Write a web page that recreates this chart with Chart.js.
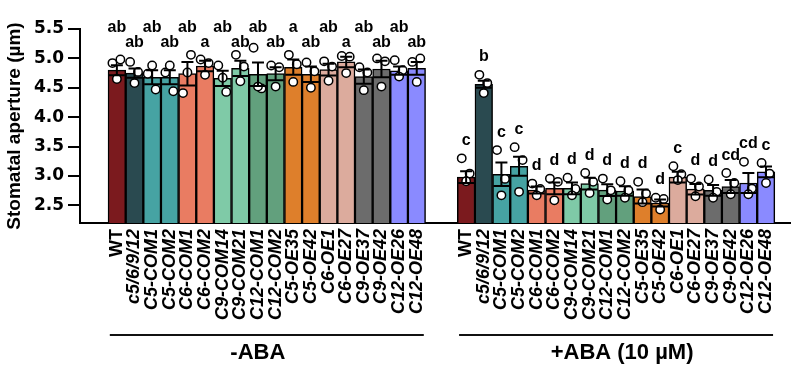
<!DOCTYPE html>
<html><head><meta charset="utf-8">
<script src="https://cdn.jsdelivr.net/npm/chart.js@4.4.1/dist/chart.umd.min.js"></script>
<style>html,body{margin:0;padding:0;background:#fff;}</style>
</head><body>
<canvas id="c" width="800" height="377" style="width:800px;height:377px;display:block"></canvas>
<script>
// ---------- data ----------
const categories = ['WT','c5/6/9/12','C5-COM1','C5-COM2','C6-COM1','C6-COM2','C9-COM14','C9-COM21','C12-COM1','C12-COM2','C5-OE35','C5-OE42','C6-OE1','C6-OE27','C9-OE37','C9-OE42','C12-OE26','C12-OE48'];
const groupLabels = ['-ABA', '+ABA (10 µM)'];
const yTickValues = [2.5, 3.0, 3.5, 4.0, 4.5, 5.0, 5.5];
const yTitle = 'Stomatal aperture (µm)';

const meanMinus = [4.80,4.75,4.68,4.68,4.74,4.87,4.66,4.83,4.73,4.74,4.85,4.73,4.81,4.94,4.69,4.82,4.79,4.83];
const semMinus  = [0.085,0.08,0.12,0.12,0.20,0.09,0.13,0.13,0.20,0.11,0.13,0.13,0.10,0.09,0.12,0.14,0.07,0.11];
const dotsMinus = [
  [4.92,4.98,4.65],[4.94,4.77,4.58],[4.74,4.47,4.88],[4.76,4.44,4.88],[4.41,5.06,4.76],[4.98,4.92,4.72],
  [4.88,4.43,4.67],[5.06,4.86,4.61],[5.18,4.49,4.52],[4.88,4.85,4.52],[5.06,4.90,4.60],[4.93,4.78,4.50],
  [4.95,4.86,4.62],[5.04,5.03,4.75],[4.85,4.76,4.46],[5.00,4.95,4.52],[4.97,4.80,4.69],[4.94,5.00,4.60]
];
const lettersMinus = ['ab','ab','ab','ab','ab','a','ab','ab','ab','ab','a','ab','ab','a','ab','ab','ab','ab'];

const meanPlus = [2.98,4.56,3.03,3.165,2.76,2.79,2.79,2.87,2.76,2.745,2.65,2.54,2.98,2.775,2.755,2.82,2.88,3.07];
const semPlus  = [0.10,0.06,0.20,0.16,0.06,0.10,0.10,0.10,0.10,0.08,0.12,0.06,0.09,0.09,0.09,0.11,0.17,0.09];
const dotsPlus = [
  [3.30,3.04,2.91],[4.72,4.58,4.41],[3.44,2.95,2.67],[3.49,3.27,2.73],[2.87,2.78,2.67],[2.955,2.90,2.585],
  [2.97,2.78,2.67],[3.05,2.90,2.71],[2.955,2.755,2.60],[2.91,2.755,2.63],[2.90,2.70,2.555],[2.63,2.61,2.43],
  [3.165,3.03,2.93],[2.955,2.82,2.655],[2.94,2.73,2.63],[3.05,2.88,2.69],[3.24,2.785,2.69],[3.22,3.04,2.88]
];
const lettersPlus = ['c','b','c','c','d','d','d','d','d','d','d','d','c','d','d','cd','cd','c'];

const barColors = ['#7b1a1e','#2a4a50','#46a3a3','#46a3a3','#e97c62','#e97c62','#7fcaa7','#7fcaa7','#62a07d','#62a07d','#de7f2b','#de7f2b','#dcab9d','#dcab9d','#6c6c6c','#6c6c6c','#8a8aff','#8a8aff'];

// ---------- build ----------
const groups = [
  {mean: meanMinus, sem: semMinus, dots: dotsMinus, letters: lettersMinus},
  {mean: meanPlus,  sem: semPlus,  dots: dotsPlus,  letters: lettersPlus}
];
const GROUP_START = [0, 19.8];
const JITTER = [-0.25, 0.2, 0.0];
const pos = (g, i) => GROUP_START[g] + i;

const barData = [], barCol = [], dotData = [], tickPos = [], tickLab = [];
groups.forEach((g, gi) => {
  g.mean.forEach((m, i) => {
    barData.push({x: pos(gi, i), y: m});
    barCol.push(barColors[i]);
    tickPos.push(pos(gi, i));
    tickLab.push(categories[i]);
    g.dots[i].forEach((d, j) => dotData.push({x: pos(gi, i) + JITTER[j], y: d}));
  });
});

const SANS = '"Liberation Sans", Arial, sans-serif';

const overlay = {
  id: 'overlay',
  afterDatasetsDraw(chart) {
    const {ctx, scales: {x, y}} = chart;
    ctx.save();
    ctx.strokeStyle = '#000';
    ctx.lineWidth = 2;
    groups.forEach((g, gi) => {
      g.mean.forEach((m, i) => {
        const px = x.getPixelForValue(pos(gi, i));
        const top = y.getPixelForValue(m + g.sem[i]);
        const bot = y.getPixelForValue(m - g.sem[i]);
        ctx.beginPath();
        ctx.moveTo(px, top); ctx.lineTo(px, bot);
        ctx.moveTo(px - 6, top); ctx.lineTo(px + 6, top);
        ctx.moveTo(px - 8, bot); ctx.lineTo(px + 8, bot);
        ctx.stroke();
      });
    });
    ctx.restore();
  },
  afterDraw(chart) {
    const {ctx, scales: {x, y}} = chart;
    ctx.save();
    ctx.fillStyle = '#000';
    ctx.textAlign = 'center';
    ctx.textBaseline = 'alphabetic';
    ctx.font = 'bold 16px ' + SANS;
    // letters, -ABA: alternating rows
    groups[0].letters.forEach((t, i) => {
      const px = x.getPixelForValue(pos(0, i));
      ctx.fillText(t, px, i % 2 === 0 ? 32 : 47);
    });
    // letters, +ABA: above the highest mark
    groups[1].letters.forEach((t, i) => {
      const g = groups[1];
      const px = x.getPixelForValue(pos(1, i));
      const dotTop = y.getPixelForValue(Math.max(...g.dots[i])) - 4.5;
      const errTop = y.getPixelForValue(g.mean[i] + g.sem[i]);
      ctx.fillText(t, px, Math.min(dotTop, errTop) - 9);
    });
    // group lines and labels
    ctx.strokeStyle = '#111';
    ctx.lineWidth = 2;
    const labelShift = [-9, 6];
    groups.forEach((g, gi) => {
      const x0 = x.getPixelForValue(pos(gi, 0) - 0.4);
      const x1 = x.getPixelForValue(pos(gi, g.mean.length - 1) + 0.4);
      ctx.beginPath(); ctx.moveTo(x0, 335); ctx.lineTo(x1, 335); ctx.stroke();
      ctx.font = 'bold 22px ' + SANS;
      ctx.fillText(groupLabels[gi], (x0 + x1) / 2 + labelShift[gi], 359);
    });
    ctx.restore();
  }
};

new Chart(document.getElementById('c'), {
  data: {
    datasets: [
      {
        type: 'bar', data: barData, backgroundColor: barCol,
        borderColor: '#000', borderWidth: 1.5, borderSkipped: false,
        barPercentage: 1, categoryPercentage: 1, order: 2
      },
      {
        type: 'scatter', data: dotData, pointRadius: 4.2, pointHoverRadius: 4.2,
        pointBackgroundColor: '#fff', pointBorderColor: '#000', pointBorderWidth: 1.5,
        showLine: false, order: 1, clip: false
      }
    ]
  },
  plugins: [overlay],
  options: {
    responsive: false,
    animation: false,
    devicePixelRatio: 1,
    layout: {padding: {top: 29, right: 10, left: 0, bottom: 0}},
    plugins: {legend: {display: false}, tooltip: {enabled: false}},
    scales: {
      x: {
        type: 'linear', min: -2.09, max: 38.16, offset: false,
        grid: {display: false, drawTicks: false, offset: false},
        border: {display: true, color: '#000', width: 2},
        afterBuildTicks: s => { s.ticks = tickPos.map(v => ({value: v})); },
        afterFit: s => { s.height = 154; },
        ticks: {
          autoSkip: false, minRotation: 90, maxRotation: 90, padding: 6, color: '#000',
          callback: (v, i) => tickLab[i],
          font: c => ({family: SANS, size: 18, weight: 'bold', style: (c.index % 18 === 0) ? 'normal' : 'italic'})
        }
      },
      y: {
        type: 'linear', min: 2.2, max: 5.5,
        grid: {drawOnChartArea: false, drawTicks: true, tickLength: 12, color: '#000', lineWidth: 2},
        border: {display: true, color: '#000', width: 2},
        afterBuildTicks: s => { s.ticks = yTickValues.map(v => ({value: v})); },
        afterFit: s => { s.width = 80; },
        ticks: {
          color: '#000', padding: 4,
          callback: v => v.toFixed(1),
          font: {family: '"DejaVu Sans", sans-serif', size: 17, weight: 'bold'}
        },
        title: {
          display: true, text: yTitle, color: '#000', padding: {top: 3, bottom: 0},
          font: {family: SANS, size: 19, weight: 'bold'}
        }
      }
    }
  }
});
</script>
</body></html>
